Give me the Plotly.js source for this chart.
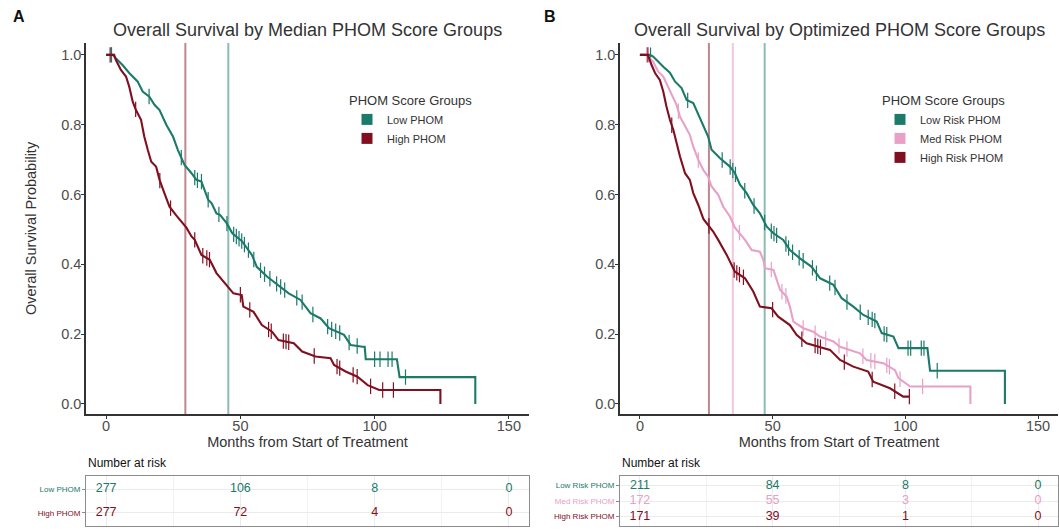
<!DOCTYPE html>
<html>
<head>
<meta charset="utf-8">
<script src="https://cdn.plot.ly/plotly-3.0.1.min.js"></script>
<style>html,body{margin:0;padding:0;background:#fff;}#chart{width:1059px;height:529px;}</style>
</head>
<body>
<div id="chart"></div>
<script>
// ---------- Panel A: Median PHOM score groups ----------
const groupsA = ["Low PHOM", "High PHOM"];
const lowA_t = [0,2.5,3.6,6.1,8.6,11.7,13.6,16.1,18,19.9,22.4,24.9,26.7,29.2,31.8,33.6,35.5,36.7,38,39.3,41.1,42.4,44.9,47,50.5,54.3,56.1,59.9,64.9,68,72.4,76.1,79.9,83,88.6,91.1,95.5,96.3,96.7,108.3,109.3,137.5,137.5];
const lowA_s = [1,1,0.99,0.971,0.948,0.924,0.895,0.88,0.857,0.842,0.80,0.766,0.728,0.685,0.661,0.642,0.637,0.613,0.585,0.575,0.546,0.542,0.518,0.489,0.467,0.427,0.393,0.365,0.336,0.317,0.298,0.26,0.245,0.217,0.198,0.169,0.164,0.164,0.128,0.128,0.077,0.077,0];
const lowA_cens = [2,16,28,33,34,35.5,38,42,45,47.5,48.5,49.5,50.5,51.5,53,55,57.5,59,61,63.5,65,66.5,71,73,77,82.5,84,85.5,87,90.5,93.5,100,102,105,106.5,111.5];
const highA_t = [0,3,3.6,5.5,7.4,8.6,9.9,11.1,13,14.2,15.5,16.8,18.6,19.9,21.7,23.6,26.1,28.6,29.9,31.8,33,35.5,38.6,41.1,44.9,47.4,50.5,51.1,54.9,58,61.8,64.2,69.9,73,78,83.6,84.9,89.2,93.6,97.4,101.7,124.5,124.5];
const highA_s = [1,1,0.986,0.957,0.938,0.909,0.866,0.842,0.814,0.766,0.728,0.694,0.68,0.642,0.604,0.565,0.54,0.518,0.505,0.48,0.47,0.427,0.413,0.375,0.341,0.317,0.312,0.279,0.264,0.226,0.207,0.183,0.174,0.15,0.136,0.131,0.112,0.093,0.078,0.054,0.04,0.04,0];
const highA_cens = [1.5,11,20,24,33,36,37.5,38.5,50,53.5,60.5,61.5,66,67,68,77.5,86,87,92,93.5,98.5,103,107];
const mediansA = [45.5, 29.5];
const riskTimes = [0, 50, 100, 150];
const riskLowA = [277, 106, 8, 0];
const riskHighA = [277, 72, 4, 0];

// ---------- Panel B: Optimized PHOM score groups ----------
const groupsB = ["Low Risk PHOM", "Med Risk PHOM", "High Risk PHOM"];
const lowB_t = [0,3.8,5,6.9,8.8,11.3,13.2,15.7,17.6,20.1,22,23.9,25.7,27,30.2,33.9,35.8,37.7,40.2,42.7,45.2,47.8,50.3,54,56.5,60.3,64.7,67.9,72.9,76,80.4,84.2,89.2,91.1,95.5,97.4,108.3,109.3,137.5,137.5];
const lowB_s = [1,1,0.995,0.98,0.966,0.949,0.924,0.905,0.871,0.862,0.828,0.795,0.766,0.728,0.704,0.68,0.661,0.628,0.604,0.57,0.546,0.508,0.489,0.47,0.441,0.417,0.393,0.36,0.341,0.303,0.279,0.255,0.236,0.203,0.193,0.16,0.16,0.095,0.095,0];
const lowB_cens = [4,18,31,34,35,36,39.5,43,47,49.5,50.5,51.5,55,56,57.5,60,61.5,65,66.5,71.5,73.5,78,83,86,87.5,88.5,92,93,101,102,106,107,112];
const medB_t = [0,2.5,5,6.9,8.8,10,11.9,13.8,15.1,17,18.8,20.1,22,23.9,25.7,27,29.5,31.4,33.9,35.8,37.7,39.6,42.1,45.2,46.5,47.1,50.3,51.5,52.8,55.3,56.5,57.8,61.6,65.3,67.8,72.9,75.4,82.9,85.4,91.7,96.1,97.4,101.8,124.5,124.5];
const medB_s = [1,1,0.98,0.952,0.938,0.919,0.885,0.857,0.823,0.795,0.771,0.737,0.699,0.67,0.651,0.623,0.599,0.565,0.537,0.505,0.489,0.47,0.441,0.436,0.413,0.389,0.384,0.355,0.327,0.307,0.279,0.236,0.217,0.207,0.193,0.179,0.164,0.145,0.126,0.117,0.097,0.074,0.05,0.05,0];
const medB_cens = [2.5,14.5,22,37.5,49.5,53.5,55,61.5,66,70,75,78,84,87,88.5,93,94,98,106.5];
const highB_t = [0,3,4.4,5.7,7.5,8.8,10,11.3,12.6,13.8,15.1,17,18.8,20.1,22,23.9,25.7,27.6,29.5,32.7,35.8,39.6,42.7,45.2,49.6,52.1,56.5,59,62.8,71.6,75.4,80.4,86,87.9,94.2,99.2,101.5];
const highB_s = [1,1,0.971,0.948,0.928,0.895,0.852,0.814,0.785,0.747,0.709,0.661,0.642,0.604,0.57,0.53,0.513,0.494,0.47,0.427,0.379,0.36,0.322,0.279,0.274,0.25,0.226,0.198,0.174,0.155,0.126,0.107,0.093,0.064,0.045,0.021,0.021];
const highB_cens = [3,12,26,35.5,36.5,37.5,39,50,61,66,67,68,77,87.5,96,101.5];
const mediansB = [47, 35, 26];
const riskLowB = [211, 84, 8, 0];
const riskMedB = [172, 55, 3, 0];
const riskHighB = [171, 39, 1, 0];

const yTicks = [0, 0.2, 0.4, 0.6, 0.8, 1.0];

// ---------- styling ----------
const TEAL = "#1B7A6A", RED = "#80101F", PINK = "#E7A0C8";
const medColor = {[TEAL]: "rgba(27,122,106,0.5)", [RED]: "rgba(128,16,31,0.5)", [PINK]: "rgba(231,160,200,0.6)"};
const FONT = "Liberation Sans, Arial, Helvetica, sans-serif";

function survAt(ts, ss, t) {
  for (let i = 0; i < ts.length - 1; i++) {
    if (t >= ts[i] && t <= ts[i+1]) {
      if (ts[i+1] === ts[i]) return ss[i];
      return ss[i] + (ss[i+1]-ss[i]) * (t - ts[i]) / (ts[i+1]-ts[i]);
    }
  }
  return ss[ss.length-1];
}

const traces = [];
const shapes = [];
function addCurve(name, ts, ss, cens, color, xa, ya, legend) {
  traces.push({x: ts, y: ss, type: "scatter", mode: "lines", line: {color: color, width: 2.1, shape: "linear"},
    xaxis: xa, yaxis: ya, showlegend: false, hoverinfo: "skip"});
  traces.push({x: cens, y: cens.map(t => survAt(ts, ss, t)), type: "scatter", mode: "markers",
    marker: {symbol: "line-ns-open", size: 11, color: color, line: {color: color, width: 1.2}},
    xaxis: xa, yaxis: ya, showlegend: false, hoverinfo: "skip"});
  traces.push({x: [null], y: [null], type: "scatter", mode: "markers", name: name,
    marker: {symbol: "square", size: 11, color: color},
    xaxis: xa, yaxis: ya, legend: legend, showlegend: true});
}
function addMedian(m, color, xref, yref) {
  shapes.push({type: "line", xref: xref, yref: yref + " domain", x0: m, x1: m, y0: 0, y1: 1,
    line: {color: medColor[color], width: 2}, layer: "below"});
}
function addRisk(vals, row, color, xa, ya) {
  traces.push({x: riskTimes, y: riskTimes.map(() => row), text: vals.map(String), type: "scatter", mode: "text",
    textfont: {color: color, size: 12.5, family: FONT}, textposition: "middle center",
    xaxis: xa, yaxis: ya, showlegend: false, hoverinfo: "skip"});
}

// Panel A
addCurve(groupsA[0], lowA_t, lowA_s, lowA_cens, TEAL, "x", "y", "legend");
addCurve(groupsA[1], highA_t, highA_s, highA_cens, RED, "x", "y", "legend");
addMedian(mediansA[0], TEAL, "x", "y");
addMedian(mediansA[1], RED, "x", "y");
addRisk(riskLowA, 2, TEAL, "x3", "y3");
addRisk(riskHighA, 1, RED, "x3", "y3");
// Panel B
addCurve(groupsB[0], lowB_t, lowB_s, lowB_cens, TEAL, "x2", "y2", "legend2");
addCurve(groupsB[1], medB_t, medB_s, medB_cens, PINK, "x2", "y2", "legend2");
addCurve(groupsB[2], highB_t, highB_s, highB_cens, RED, "x2", "y2", "legend2");
addMedian(mediansB[0], TEAL, "x2", "y2");
addMedian(mediansB[1], PINK, "x2", "y2");
addMedian(mediansB[2], RED, "x2", "y2");
addRisk(riskLowB, 3, TEAL, "x4", "y4");
addRisk(riskMedB, 2, PINK, "x4", "y4");
addRisk(riskHighB, 1, RED, "x4", "y4");

const W = 1059, H = 529;
const px = v => v / W, py = v => 1 - v / H;
const xRange = [-7.5, 157.5];

function mainX(dom, anchor) {
  return {domain: dom, anchor: anchor, range: xRange, tickvals: riskTimes, ticks: "outside", ticklen: 3,
    tickcolor: "#333", tickwidth: 1, showline: true, linecolor: "#333", linewidth: 1.8, showgrid: false, zeroline: false,
    ticklabelstandoff: -5,
    tickfont: {size: 14.5, color: "#4D4D4D", family: FONT},
    title: {text: "Months from Start of Treatment", font: {size: 14.5, color: "#333", family: FONT}, standoff: 3}};
}
function mainY(anchor, withTitle) {
  return {domain: [py(414), py(43)], anchor: anchor, range: [-0.0287, 1.034], tickvals: yTicks, tickformat: ".1f",
    ticks: "outside", ticklen: 3, tickcolor: "#333", showline: true, linecolor: "#333", linewidth: 1.8,
    ticklabelstandoff: -3,
    showgrid: false, zeroline: false, tickfont: {size: 14.5, color: "#4D4D4D", family: FONT},
    title: withTitle ? {text: "Overall Survival Probability", font: {size: 14.5, color: "#333", family: FONT}, standoff: 21} : {text: ""}};
}
function tableX(dom, anchor) {
  return {domain: dom, anchor: anchor, range: xRange, tickvals: riskTimes, showticklabels: false, ticks: "",
    showgrid: true, gridcolor: "#EBEBEB", gridwidth: 1, minor: {dtick: 25, tick0: 0, showgrid: true, gridcolor: "#F2F2F2", gridwidth: 1},
    showline: true, mirror: true, linecolor: "#8C8C8C", linewidth: 1, zeroline: false};
}
function tableY(anchor, rows, labels, colors) {
  return {domain: [py(526), py(476)], anchor: anchor,
    range: rows === 2 ? [0.45, 2.55] : [0.4, 3.6],
    tickvals: labels.map((_, i) => rows - i),
    ticktext: labels.map((l, i) => '<span style="color:' + colors[i] + '">' + l + '</span>'),
    tickfont: {size: 8, family: FONT}, ticks: "outside", ticklen: 3, tickcolor: "#8C8C8C",
    showgrid: true, gridcolor: "#EBEBEB", showline: true, mirror: true, linecolor: "#8C8C8C", linewidth: 1, zeroline: false};
}

const domA = [px(86), px(529)], domB = [px(620), px(1058)];
const layout = {
  width: W, height: H, margin: {l: 0, r: 0, t: 0, b: 0},
  paper_bgcolor: "#fff", plot_bgcolor: "rgba(0,0,0,0)", hovermode: false,
  font: {family: FONT, color: "#333"},
  xaxis: mainX(domA, "y"), yaxis: mainY("x", true),
  xaxis2: mainX(domB, "y2"), yaxis2: mainY("x2", false),
  xaxis3: tableX(domA, "y3"), yaxis3: tableY("x3", 2, groupsA, [TEAL, RED]),
  xaxis4: tableX(domB, "y4"), yaxis4: tableY("x4", 3, groupsB, [TEAL, PINK, RED]),
  legend: {x: px(347), y: py(88), xanchor: "left", yanchor: "top", bgcolor: "rgba(0,0,0,0)",
    title: {text: "PHOM Score Groups", font: {size: 13, color: "#333", family: FONT}},
    font: {size: 11, color: "#333", family: FONT}, itemwidth: 30},
  legend2: {x: px(880), y: py(88), xanchor: "left", yanchor: "top", bgcolor: "rgba(0,0,0,0)",
    title: {text: "PHOM Score Groups", font: {size: 13, color: "#333", family: FONT}},
    font: {size: 11, color: "#333", family: FONT}, itemwidth: 30},
  shapes: shapes,
  annotations: [
    {text: "<b>A</b>", xref: "paper", yref: "paper", x: px(11), y: py(17), xanchor: "left", yanchor: "middle", showarrow: false, font: {size: 16, color: "#111", family: FONT}},
    {text: "<b>B</b>", xref: "paper", yref: "paper", x: px(542), y: py(17), xanchor: "left", yanchor: "middle", showarrow: false, font: {size: 16, color: "#111", family: FONT}},
    {text: "Overall Survival by Median PHOM Score Groups", xref: "x domain", yref: "paper", x: 0.5, y: py(30), xanchor: "center", yanchor: "middle", showarrow: false, font: {size: 18, color: "#333", family: FONT}},
    {text: "Overall Survival by Optimized PHOM Score Groups", xref: "x2 domain", yref: "paper", x: 0.5, y: py(30), xanchor: "center", yanchor: "middle", showarrow: false, font: {size: 18, color: "#333", family: FONT}},
    {text: "Number at risk", xref: "paper", yref: "paper", x: px(86), y: py(463), xanchor: "left", yanchor: "middle", showarrow: false, font: {size: 12, color: "#111", family: FONT}},
    {text: "Number at risk", xref: "paper", yref: "paper", x: px(620), y: py(463), xanchor: "left", yanchor: "middle", showarrow: false, font: {size: 12, color: "#111", family: FONT}}
  ]
};

Plotly.newPlot("chart", traces, layout, {displayModeBar: false, staticPlot: true});
</script>
</body>
</html>
